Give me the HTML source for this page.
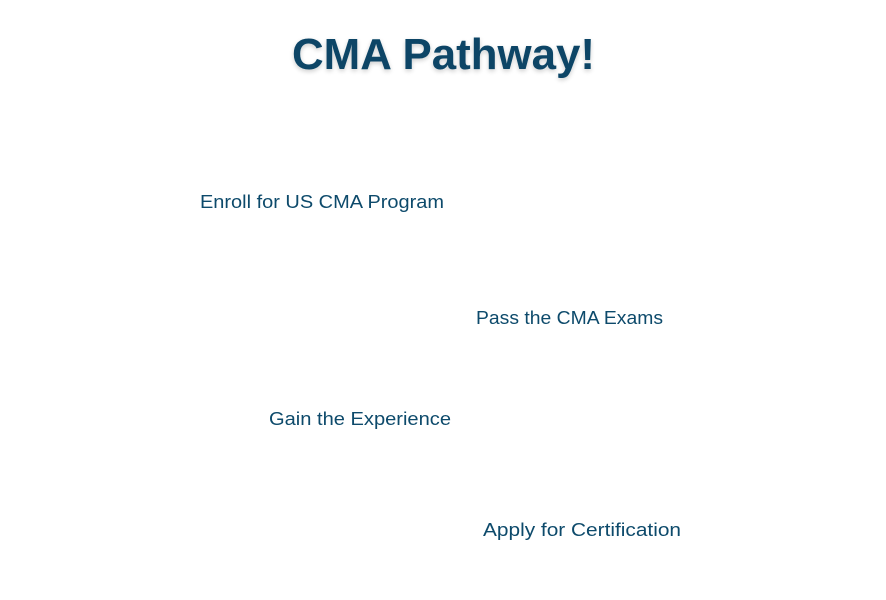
<!DOCTYPE html>
<html><head><meta charset="utf-8"><style>
html,body{margin:0;padding:0;background:#fff;width:886px;height:600px;overflow:hidden}
svg{display:block}
</style></head><body>
<svg width="886" height="600" xmlns="http://www.w3.org/2000/svg">
<defs><filter id="s" x="-10%" y="-30%" width="120%" height="160%"><feGaussianBlur in="SourceAlpha" stdDeviation="2.5"/><feOffset dx="0" dy="2"/><feComponentTransfer><feFuncA type="linear" slope="0.2"/></feComponentTransfer><feMerge><feMergeNode/><feMergeNode in="SourceGraphic"/></feMerge></filter></defs>
<text x="292" y="69" font-family="Liberation Sans, sans-serif" font-weight="bold" font-size="44" fill="#0b4566" textLength="303" lengthAdjust="spacingAndGlyphs" filter="url(#s)">CMA Pathway!</text>
<g font-family="Liberation Sans, sans-serif" font-size="18" fill="#0d4a6b">
<text x="200" y="208" textLength="244" lengthAdjust="spacingAndGlyphs">Enroll for US CMA Program</text>
<text x="476" y="324" textLength="187" lengthAdjust="spacingAndGlyphs">Pass the CMA Exams</text>
<text x="269" y="425" textLength="182" lengthAdjust="spacingAndGlyphs">Gain the Experience</text>
<text x="483" y="536" textLength="198" lengthAdjust="spacingAndGlyphs">Apply for Certification</text>
</g>
</svg>
</body></html>
